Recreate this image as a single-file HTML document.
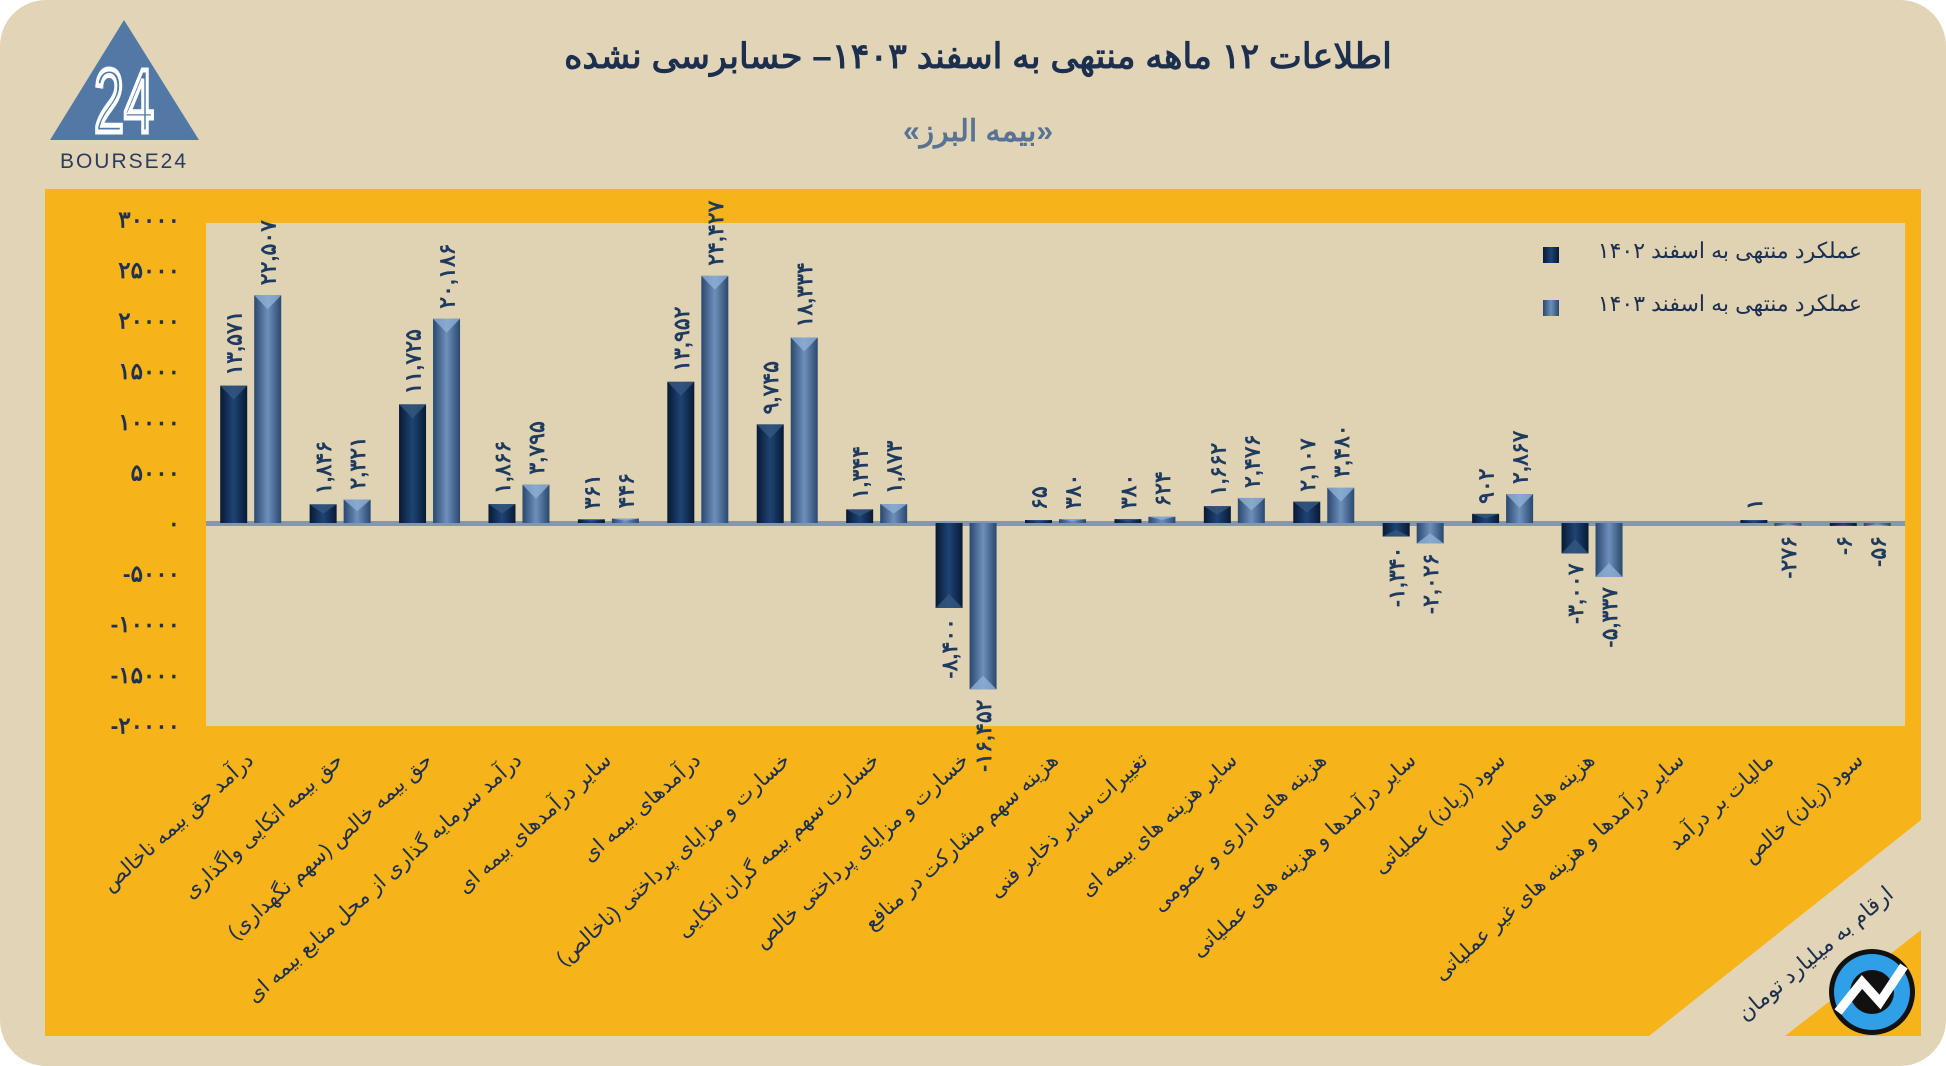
<!DOCTYPE html>
<html><head><meta charset="utf-8">
<style>
html,body{margin:0;padding:0;background:#fff;}
body{width:1946px;height:1066px;overflow:hidden;font-family:"Liberation Sans","Noto Sans CJK SC",sans-serif;}
#card{position:absolute;left:0;top:0;width:1946px;height:1066px;background:#e2d5b7;border-radius:46px;}
svg{position:absolute;left:0;top:0;}
</style></head>
<body>
<div id="card"></div>
<svg id="chart" width="1946" height="1066">
<defs>
<linearGradient id="gd" x1="0" x2="1" y1="0" y2="0"><stop offset="0" stop-color="#081a34"/><stop offset="0.5" stop-color="#1e4474"/><stop offset="1" stop-color="#081a34"/></linearGradient>
<linearGradient id="gl" x1="0" x2="1" y1="0" y2="0"><stop offset="0" stop-color="#2a486f"/><stop offset="0.5" stop-color="#6d90ba"/><stop offset="1" stop-color="#2a486f"/></linearGradient>
</defs>
<polygon points="45,189 1921,189 1921,820 1649,1036 45,1036" fill="#f6b31a"/>
<polygon points="1921,930 1921,1036 1785,1036" fill="#f6b31a"/>
<rect x="206" y="223" width="1699" height="503" fill="#e0d3b3"/>
<g>
<polygon points="124,20 50,140 199,140" fill="#5279a6"/>
<text transform="translate(124,132) scale(0.6,1)" text-anchor="middle" font-size="90" fill="none" stroke="#fff" stroke-width="5" font-family="Liberation Sans, sans-serif">24</text>
<text x="124" y="168" text-anchor="middle" font-size="21" fill="#2a3d5e" letter-spacing="2">BOURSE24</text>
</g>
<text x="978" y="68" text-anchor="middle" font-size="35" font-weight="bold" fill="#1c2f4f" font-family="Liberation Sans, Noto Sans CJK SC, sans-serif" direction="rtl">اطلاعات ۱۲ ماهه منتهی به اسفند  ۱۴۰۳– حسابرسی نشده</text>
<text x="978" y="141" text-anchor="middle" font-size="30" font-weight="bold" fill="#5a7394" direction="rtl">«بیمه البرز»</text>
<g id="yaxis"></g>
<g id="bars"></g>
<g id="xaxis"></g>
<g>
<rect x="1543" y="247" width="16" height="16" fill="url(#gd)"/>
<text x="1862" y="258" text-anchor="end" font-size="22" fill="#1c2f4f">عملکرد منتهی به اسفند ۱۴۰۲</text>
<rect x="1543" y="300" width="16" height="16" fill="url(#gl)"/>
<text x="1862" y="311" text-anchor="end" font-size="22" fill="#1c2f4f">عملکرد منتهی به اسفند ۱۴۰۳</text>
</g>
<text transform="translate(1745,1022) rotate(-40)" font-size="22" fill="#1c2f4f">ارقام به میلیارد تومان</text>
<g>
<circle cx="1872" cy="992" r="43" fill="#111"/>
<circle cx="1872" cy="992" r="38" fill="#2f9fe8"/>
<circle cx="1872" cy="992" r="22" fill="#111"/>
<polyline points="1838,1012 1862,982 1880,1002 1904,966" fill="none" stroke="#fff" stroke-width="9"/>
</g>
</svg>
<script>
const categories=["درآمد حق بیمه ناخالص","حق بیمه اتکایی واگذاری","حق بیمه خالص (سهم نگهداری)","درآمد سرمایه گذاری از محل منابع بیمه ای","سایر درآمدهای بیمه ای","درآمدهای بیمه ای","خسارت و مزایای پرداختی (ناخالص)","خسارت سهم بیمه گران اتکایی","خسارت و مزایای پرداختی خالص","هزینه سهم مشارکت در منافع","تغییرات سایر ذخایر فنی","سایر هزینه های بیمه ای","هزینه های اداری و عمومی","سایر درآمدها و هزینه های عملیاتی","سود (زیان) عملیاتی","هزینه های مالی","سایر درآمدها و هزینه های غیر عملیاتی","مالیات بر درآمد","سود (زیان) خالص"];
const values1402=[13571,1846,11725,1866,361,13952,9745,1344,-8400,65,380,1662,2107,-1340,902,-3007,null,1,-6];
const values1403=[22507,2321,20186,3795,446,24427,18334,1873,-16452,380,624,2476,3480,-2026,2867,-5337,null,-276,-56];
const yTicks=[30000,25000,20000,15000,10000,5000,0,-5000,-10000,-15000,-20000];
const NS="http://www.w3.org/2000/svg";
const L=206,R=1905,Y0=523,PX=0.01012;
function y(v){return Y0-v*PX;}
const bw=(R-L)/categories.length;
function xc(i){return L+bw*(i+0.5);}
function fa(n){const d="۰۱۲۳۴۵۶۷۸۹";let s=Math.abs(n).toString().replace(/\B(?=(\d{3})+(?!\d))/g,",");s=s.replace(/\d/g,c=>d[+c]);return (n<0?"-":"")+s;}
function mk(tag,attrs,parent,txt){const e=document.createElementNS(NS,tag);for(const k in attrs)e.setAttribute(k,attrs[k]);if(txt!==undefined)e.textContent=txt;parent.appendChild(e);return e;}
const ya=document.getElementById('yaxis');
yTicks.forEach(t=>{const e=mk('text',{x:180,y:y(t)+8,'text-anchor':'end','font-size':23,'font-weight':'bold',fill:'#1f3050'},ya,fa(t).replace(/,/g,""));

});
const bars=document.getElementById('bars');
const zl=mk('rect',{x:L,y:Y0-2,width:R-L,height:5,fill:'#8797ab'},bars);


function drawBar(i,v,off,grad,light,name){
 if(v===null)return;
 const cx=xc(i)+off,w=27;
 let h=Math.max(Math.abs(y(v)-Y0),3);
 let top=v<0?Y0:Y0-h;
 const r=mk('rect',{x:cx-w/2,y:top,width:w,height:h,fill:grad},bars);
 
 
 const bh=Math.min(14,h/2);
 const ey=v<0?top+h:top, dir=v<0?-1:1;
 mk('polygon',{points:`${cx-w/2},${ey} ${cx+w/2},${ey} ${cx},${ey+dir*bh}`,fill:light,opacity:0.8},bars);
 let t;
 if(v>=0){t=mk('text',{transform:`translate(${cx+8},${top-10}) rotate(-90)`,'text-anchor':'start','font-size':22,'font-weight':'bold',fill:'#1f3a5f'},bars,fa(v));}
 else{t=mk('text',{transform:`translate(${cx+8},${top+h+10}) rotate(-90)`,'text-anchor':'end','font-size':22,'font-weight':'bold',fill:'#1f3a5f'},bars,fa(v));}
 
 
}
categories.forEach((c,i)=>{
 drawBar(i,values1402[i],-17,'url(#gd)','#35577f','bar-1402');
 drawBar(i,values1403[i],17,'url(#gl)','#8fb0d4','bar-1403');
 const t=mk('text',{transform:`translate(${xc(i)+4},${762}) rotate(-42)`,'text-anchor':'end','font-size':21,fill:'#1c2f4f'},document.getElementById('xaxis'),c);
 
 
});
</script>
</body></html>
